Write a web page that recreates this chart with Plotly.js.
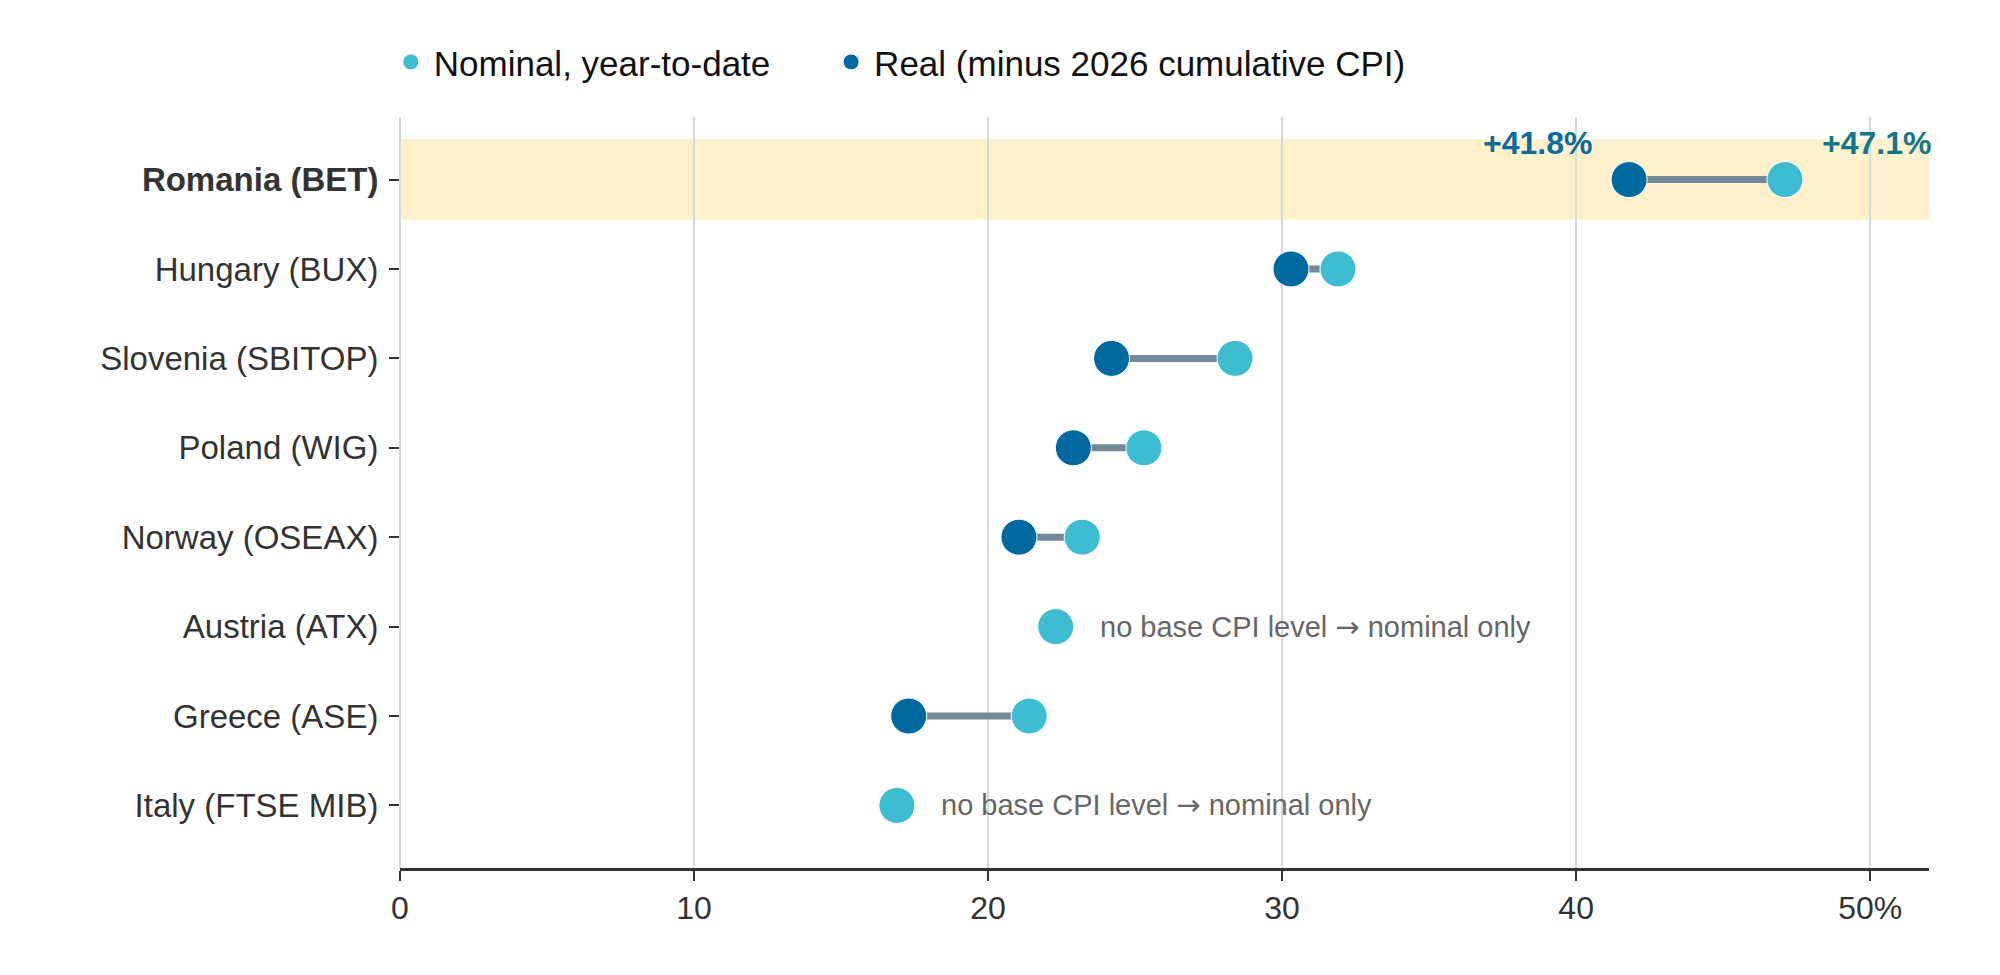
<!DOCTYPE html>
<html>
<head>
<meta charset="utf-8">
<script src="https://cdn.plot.ly/plotly-3.0.1.min.js"></script>
<style>
  html, body { margin: 0; padding: 0; background: #fff; }
  #chart { width: 2000px; height: 975px; }
</style>
</head>
<body>
<div id="chart"></div>
<script>
/* ====== data ====== */
const countries = [
  "Romania (BET)",
  "Hungary (BUX)",
  "Slovenia (SBITOP)",
  "Poland (WIG)",
  "Norway (OSEAX)",
  "Austria (ATX)",
  "Greece (ASE)",
  "Italy (FTSE MIB)",
];
// nominal year-to-date return, %
const nominal = [47.1, 31.9, 28.4, 25.3, 23.2, 22.3, 21.4, 16.9];
// real return (nominal minus 2026 cumulative CPI), null = no CPI base level
const real = [41.8, 30.3, 24.2, 22.9, 21.05, null, 17.3, null];

const xTickVals = [0, 10, 20, 30, 40, 50];
const xTickText = ["0", "10", "20", "30", "40", "50%"];

const highlight = "Romania (BET)";
const noCpiNote =
  'no base CPI level <span style="font-family:DejaVu Sans">\u2192</span> nominal only';

/* ====== colours ====== */
const C_NOMINAL = "#3ebcd2";
const C_REAL = "#0069a0";
const C_LINK = "#738a96";
const FONT = "Liberation Sans, Arial, sans-serif";

/* ====== connector lines (real -> nominal) ====== */
const linkX = [];
const linkY = [];
countries.forEach((c, i) => {
  if (real[i] === null) return;
  linkX.push(real[i], nominal[i], null);
  linkY.push(c, c, null);
});

const traces = [
  {
    x: linkX,
    y: linkY,
    type: "scatter",
    mode: "lines",
    line: { color: C_LINK, width: 7 },
    hoverinfo: "skip",
    showlegend: false,
  },
  {
    x: nominal,
    y: countries,
    type: "scatter",
    mode: "markers",
    name: "Nominal, year-to-date",
    legend: "legend",
    marker: { color: C_NOMINAL, size: 36, line: { color: "#ffffff", width: 1 } },
  },
  {
    x: real,
    y: countries,
    type: "scatter",
    mode: "markers",
    name: "Real (minus 2026 cumulative CPI)",
    legend: "legend2",
    marker: { color: C_REAL, size: 36, line: { color: "#ffffff", width: 1 } },
  },
];

/* ====== annotations ====== */
const annotations = [];
const hi = countries.indexOf(highlight);
annotations.push({
  x: real[hi], y: highlight, xref: "x", yref: "y",
  text: "<b>+" + real[hi].toFixed(1) + "%</b>",
  showarrow: false, xanchor: "right", yanchor: "middle",
  xshift: -35, yshift: 37,
  font: { family: FONT, size: 32, color: "#0b6a9e" },
});
annotations.push({
  x: nominal[hi], y: highlight, xref: "x", yref: "y",
  text: "<b>+" + nominal[hi].toFixed(1) + "%</b>",
  showarrow: false, xanchor: "left", yanchor: "middle",
  xshift: 35, yshift: 37,
  font: { family: FONT, size: 32, color: "#11778f" },
});
countries.forEach((c, i) => {
  if (real[i] !== null) return;
  annotations.push({
    x: nominal[i], y: c, xref: "x", yref: "y",
    text: noCpiNote,
    showarrow: false, xanchor: "left", yanchor: "middle",
    xshift: 42,
    font: { family: FONT, size: 29, color: "#666666" },
  });
});

const legendBase = {
  orientation: "h",
  xanchor: "left",
  y: 1.073,
  yanchor: "middle",
  itemwidth: 36,
  font: { family: FONT, size: 35, color: "#111111" },
  bgcolor: "rgba(0,0,0,0)",
};

const layout = {
  width: 2000,
  height: 975,
  paper_bgcolor: "#ffffff",
  plot_bgcolor: "#ffffff",
  margin: { l: 400, r: 71, t: 117, b: 107 },
  font: { family: FONT, size: 33, color: "#333333" },
  showlegend: true,
  legend: Object.assign({}, legendBase, { x: -0.008 }),
  legend2: Object.assign({}, legendBase, { x: 0.280 }),
  xaxis: {
    range: [0, 52],
    tickvals: xTickVals,
    ticktext: xTickText,
    showgrid: true,
    gridcolor: "#d6d9dc",
    gridwidth: 2,
    zeroline: true,
    zerolinecolor: "#d6d9dc",
    zerolinewidth: 2,
    showline: true,
    linecolor: "#333333",
    linewidth: 2.5,
    ticks: "outside",
    ticklen: 10,
    tickwidth: 2,
    tickcolor: "#333333",
    tickfont: { family: FONT, size: 32, color: "#333333" },
    fixedrange: true,
  },
  yaxis: {
    type: "category",
    categoryorder: "array",
    categoryarray: countries,
    range: [7.7, -0.7],
    tickvals: countries,
    ticktext: countries.map((c) => (c === highlight ? "<b>" + c + "</b>" : c)),
    showgrid: false,
    zeroline: false,
    showline: false,
    ticks: "outside",
    ticklen: 10,
    tickwidth: 2,
    tickcolor: "#333333",
    ticklabelstandoff: 4,
    tickfont: { family: FONT, size: 33, color: "#333333" },
    fixedrange: true,
  },
  shapes: [
    {
      type: "rect",
      layer: "below",
      xref: "paper",
      x0: 0,
      x1: 1,
      yref: "y",
      y0: hi - 0.45,
      y1: hi + 0.45,
      fillcolor: "#fff1cc",
      line: { width: 0 },
    },
  ],
  annotations: annotations,
};

Plotly.newPlot("chart", traces, layout, { displayModeBar: false, staticPlot: true });
</script>
</body>
</html>
